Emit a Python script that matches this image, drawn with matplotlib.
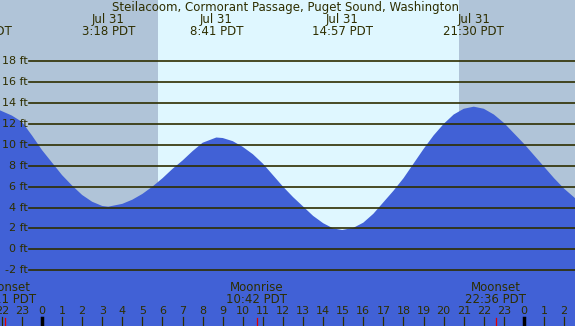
#Tide chart for Steilacoom, Cormorant Passage, Puget Sound, Washington.
#The tide curve is drawn from heights read at regular hours of Jul 31.

import numpy as np
import matplotlib
matplotlib.use('Agg')
import matplotlib.pyplot as plt


#Hours since midnight of Jul 31 and the tide height in feet at each of them.
hours = [-2.09, -1.5, -1.0, -0.5, 0.0, 0.5, 1.0, 1.5, 2.0, 2.5, 3.0, 3.3,
         4.0, 4.5, 5.0, 5.5, 6.0, 6.5, 7.0, 7.5, 8.0, 8.68, 9.0, 9.5,
         10.0, 10.5, 11.0, 11.5, 12.0, 12.5, 13.0, 13.5, 14.0, 14.5, 14.95,
         15.5, 16.0, 16.5, 17.0, 17.5, 18.0, 18.5, 19.0, 19.5, 20.0, 20.5,
         21.0, 21.5, 22.0, 22.5, 23.0, 23.5, 24.0, 24.5, 25.0, 25.5, 26.0,
         26.54]
heights = [13.3, 12.8, 12.2, 10.9, 9.5, 8.3, 7.1, 6.1, 5.2, 4.55, 4.15, 4.08,
           4.35, 4.75, 5.3, 6.0, 6.8, 7.7, 8.5, 9.4, 10.2, 10.7, 10.65, 10.35,
           9.8, 9.1, 8.2, 7.1, 6.0, 5.0, 4.1, 3.2, 2.5, 2.0, 1.85,
           2.05, 2.55, 3.4, 4.5, 5.6, 6.8, 8.2, 9.6, 10.9, 12.0, 12.9,
           13.45, 13.65, 13.45, 12.9, 12.1, 11.1, 10.1, 9.0, 7.9, 6.8, 5.8,
           4.9]

#High and low tide times (hours) with their labels at the top.
tide_hours = [-3.0, 3.3, 8.68, 14.95, 21.5]
tide_dates = ['Jul 30', 'Jul 31', 'Jul 31', 'Jul 31', 'Jul 31']
tide_times = ['21:00 PDT', '3:18 PDT', '8:41 PDT', '14:57 PDT', '21:30 PDT']

#Moon events at the bottom.
moon_hours = [-1.82, 10.7, 22.6]
moon_names = ['Moonset', 'Moonrise', 'Moonset']
moon_times = ['22:11 PDT', '10:42 PDT', '22:36 PDT']

#Sunrise and sunset in hours.
sunrise = 5.78
sunset = 20.77

#Gridline levels in feet.
levels = [-2, 0, 2, 4, 6, 8, 10, 12, 14, 16, 18]

#Hour ticks along the bottom.
tick_hours = list(range(-2, 27))


#Colours
night = '#b0c4d8'
day = '#dff7ff'
water = '#4161d6'
ink = '#2e2e00'

x0, x1 = -2.09, 26.54
y0, y1 = -7.34, 23.86

fig = plt.figure(figsize=(5.75, 3.26), dpi=100)
ax = fig.add_axes([0, 0, 1, 1])
ax.set_xlim(x0, x1)
ax.set_ylim(y0, y1)
ax.axis('off')

#Night and day background.
ax.axvspan(x0, sunrise, color=night, lw=0)
ax.axvspan(sunrise, sunset, color=day, lw=0)
ax.axvspan(sunset, x1, color=night, lw=0)

#Tide water.
ax.fill_between(hours, heights, y0, color=water, lw=0, zorder=2)

#Gridlines and their labels.
for lv in levels:
    ax.plot([-0.65, x1], [lv, lv], color=ink, lw=1.2, zorder=3)
    ax.text(-0.73, lv, '%d ft' % lv, ha='right', va='center',
            fontsize=8, color=ink, zorder=4)

#Title and tide labels at the top.
tr = ax.get_xaxis_transform()
ax.text(12.15, 1 - 7.2/326, 'Steilacoom, Cormorant Passage, Puget Sound, Washington',
        transform=tr, ha='center', va='center', fontsize=8.5, color=ink)
for h, d, t in zip(tide_hours, tide_dates, tide_times):
    ax.text(h, 1 - 19.5/326, d, transform=tr, ha='center', va='center',
            fontsize=8.5, color=ink)
    ax.text(h, 1 - 31.7/326, t, transform=tr, ha='center', va='center',
            fontsize=8.5, color=ink)

#Moon labels and their red ticks.
for h, n, t in zip(moon_hours, moon_names, moon_times):
    ax.text(h, 1 - 287.5/326, n, transform=tr, ha='center', va='center',
            fontsize=8.5, color=ink, zorder=4)
    ax.text(h, 1 - 299.5/326, t, transform=tr, ha='center', va='center',
            fontsize=8.5, color=ink, zorder=4)
    ax.plot([h, h], [0, 8/326], transform=tr, color='#e00000', lw=0.9, zorder=5)

#Hour ticks and numbers.
for h in tick_hours:
    ax.text(h, 1 - 311.5/326, str(h % 24), transform=tr, ha='center',
            va='center', fontsize=8, color=ink, zorder=4)
    if h % 24 == 0:
        ax.plot([h, h], [0, 8/326], transform=tr, color='black', lw=2.5, zorder=5)
    else:
        ax.plot([h, h], [0, 9/326], transform=tr, color=ink, lw=0.9, zorder=5)

fig.savefig('out.png', dpi=100)
